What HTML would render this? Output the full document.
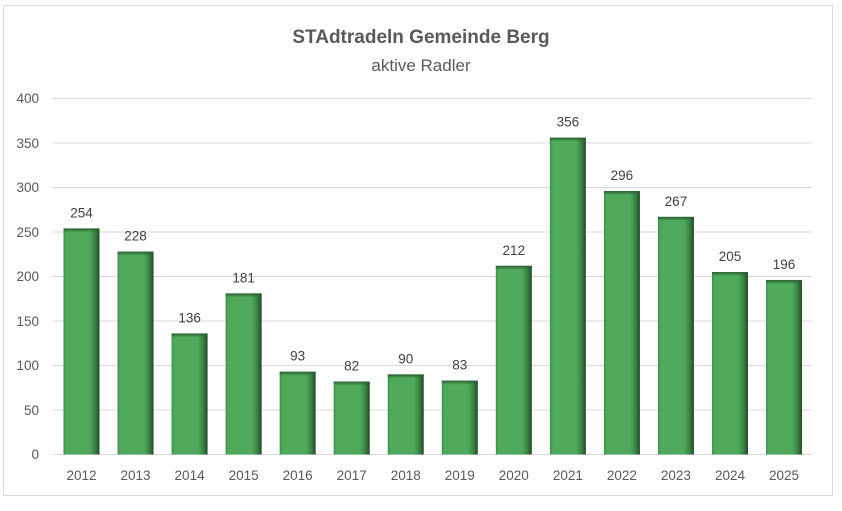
<!DOCTYPE html>
<html><head><meta charset="utf-8"><style>
body{margin:0;background:#fff;width:842px;height:506px;overflow:hidden;font-family:"Liberation Sans",sans-serif}
</style></head><body>
<svg width="842" height="506" xmlns="http://www.w3.org/2000/svg" font-family="Liberation Sans, sans-serif">
<defs>
<linearGradient id="g" x1="0" x2="1" y1="0" y2="0">
<stop offset="0" stop-color="#3f8f4a"/>
<stop offset="0.08" stop-color="#4fab5b"/>
<stop offset="0.72" stop-color="#4fab5b"/>
<stop offset="0.88" stop-color="#3a8244"/>
<stop offset="1" stop-color="#1e4a25"/>
</linearGradient>
<linearGradient id="t" x1="0" x2="0" y1="0" y2="1">
<stop offset="0" stop-color="#2a5e31"/>
<stop offset="1" stop-color="#2a5e31" stop-opacity="0"/>
</linearGradient>
</defs>
<rect x="3.5" y="5.5" width="829" height="490" fill="#fff" stroke="#d9d9d9"/>
<text x="421" y="43" text-anchor="middle" font-size="19" font-weight="bold" fill="#595959">STAdtradeln Gemeinde Berg</text>
<text x="421" y="71" text-anchor="middle" font-size="17" fill="#595959">aktive Radler</text>
<g stroke="#d9d9d9" stroke-width="1">
<line x1="53" x2="812" y1="98.5" y2="98.5"/><line x1="53" x2="812" y1="143" y2="143"/>
<line x1="53" x2="812" y1="187.5" y2="187.5"/><line x1="53" x2="812" y1="232" y2="232"/>
<line x1="53" x2="812" y1="276.5" y2="276.5"/><line x1="53" x2="812" y1="321" y2="321"/>
<line x1="53" x2="812" y1="365.5" y2="365.5"/><line x1="53" x2="812" y1="410" y2="410"/>
<line x1="53" x2="812" y1="454.5" y2="454.5"/>
</g>
<g font-size="13.5" fill="#595959" text-anchor="end">
<text x="39" y="103">400</text><text x="39" y="148">350</text><text x="39" y="192">300</text>
<text x="39" y="237">250</text><text x="39" y="281">200</text><text x="39" y="326">150</text>
<text x="39" y="370">100</text><text x="39" y="415">50</text><text x="39" y="459">0</text>
</g>
<g id="bars"></g>
<script>
var d=[254,228,136,181,93,82,90,83,212,356,296,267,205,196],g=document.getElementById('bars'),ns='http://www.w3.org/2000/svg';
d.forEach(function(v,i){var cx=81.5+i*54.04,h=v*0.89,y=454.5-h;
var r=document.createElementNS(ns,'rect');r.setAttribute('x',cx-18);r.setAttribute('y',y);r.setAttribute('width',36);r.setAttribute('height',h);r.setAttribute('fill','url(#g)');g.appendChild(r);
var c=document.createElementNS(ns,'rect');c.setAttribute('x',cx-18);c.setAttribute('y',y);c.setAttribute('width',36);c.setAttribute('height',4);c.setAttribute('fill','url(#t)');g.appendChild(c);
var t=document.createElementNS(ns,'text');t.setAttribute('x',cx);t.setAttribute('y',y-11);t.setAttribute('text-anchor','middle');t.setAttribute('font-size','13.5');t.setAttribute('fill','#404040');t.textContent=v;g.appendChild(t);
var l=document.createElementNS(ns,'text');l.setAttribute('x',cx);l.setAttribute('y',480);l.setAttribute('text-anchor','middle');l.setAttribute('font-size','13.5');l.setAttribute('fill','#595959');l.textContent=2012+i;g.appendChild(l);});
</script>
</svg>
</body></html>
